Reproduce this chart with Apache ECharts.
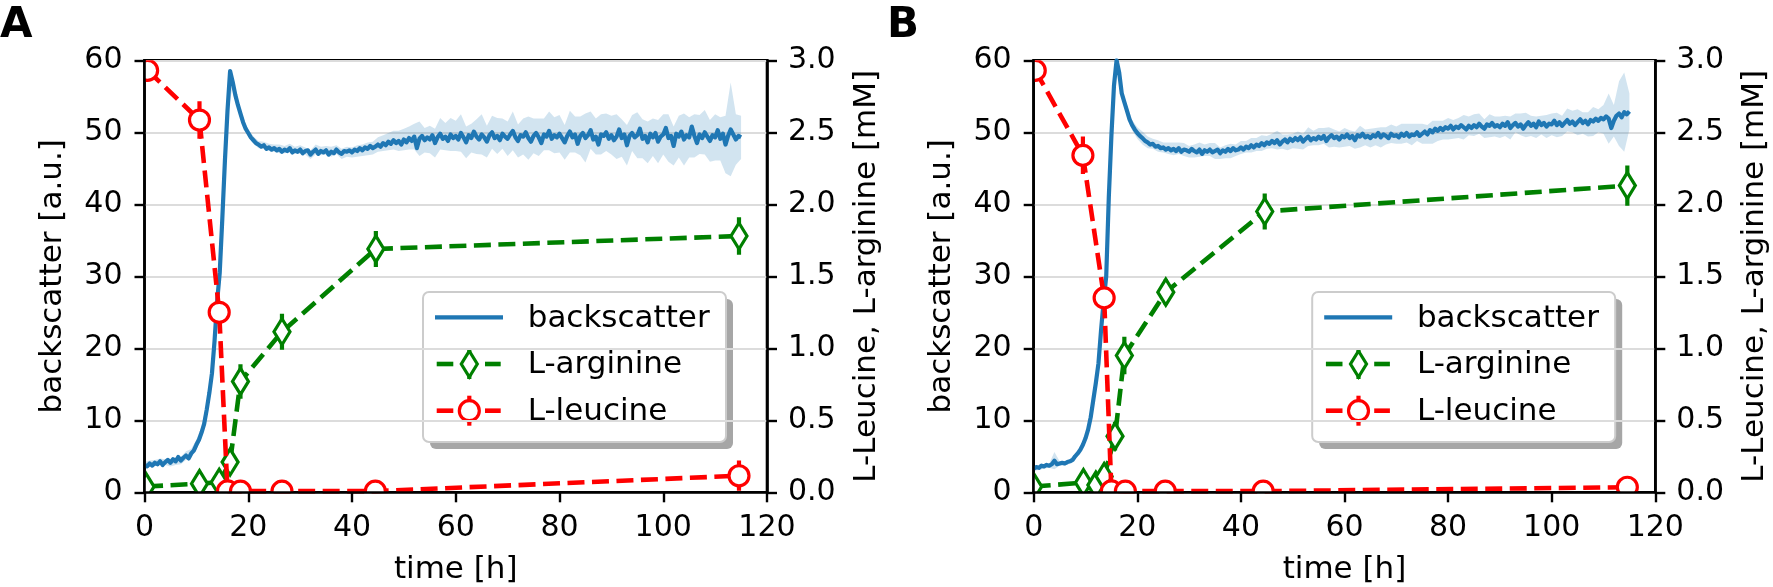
<!DOCTYPE html>
<html><head><meta charset="utf-8">
<script src="https://cdn.jsdelivr.net/npm/echarts@6/dist/echarts.min.js"></script>
<style>html,body{margin:0;padding:0;background:#fff}#c{width:1773px;height:587px}</style>
</head><body><div id="c"></div>
<script>
// ---------------- DATA ----------------
const bsStep = 0.5;   // hours between backscatter samples
const sdStep = 1.0;   // hours between spread samples
const xTicks = [0, 20, 40, 60, 80, 100, 120];
const yLeftTicks = [0, 10, 20, 30, 40, 50, 60];
const yRightTicks = [0.0, 0.5, 1.0, 1.5, 2.0, 2.5, 3.0];
const seriesNames = ['backscatter', 'L-arginine', 'L-leucine'];
const panelLabels = ['A', 'B'];

// Panel A backscatter mean (a.u.)
const bsA = [
 3.8,3.6,4.0,3.7,4.1,3.9,4.3,3.8,4.2,4.5,
 4.1,4.6,4.3,4.9,4.4,4.8,5.1,4.7,5.4,5.8,
 6.6,7.3,8.3,9.5,11.5,13.8,16.5,21.0,26.5,30.5,
 38.0,46.0,53.0,58.5,57.0,55.2,53.8,52.6,51.4,50.5,
 49.9,49.3,48.9,48.5,48.3,48.0,48.2,47.7,47.9,47.6,
 47.8,47.5,47.7,47.3,47.6,47.4,47.8,47.2,47.5,47.3,
 47.6,47.1,47.4,47.5,46.9,47.3,47.6,47.0,47.4,47.2,
 47.5,46.9,47.3,47.1,47.6,47.2,47.0,47.4,47.3,47.5,
 47.2,47.6,47.4,47.8,47.5,47.9,47.7,48.1,47.8,48.0,
 48.3,48.0,48.5,48.2,48.7,48.4,48.9,48.5,48.8,48.3,
 49.0,48.6,49.2,48.8,49.4,47.8,49.1,49.5,48.9,49.3,
 49.0,49.6,48.5,49.3,49.8,49.1,49.4,48.8,49.7,49.2,
 49.5,49.0,49.9,49.3,48.6,49.6,49.2,50.1,49.4,49.0,
 49.7,49.3,48.7,49.6,50.0,49.2,49.5,48.9,49.8,49.4,
 49.1,49.7,50.2,49.3,48.8,49.6,49.4,50.0,49.2,48.7,
 49.5,49.9,49.3,48.5,49.7,49.4,50.2,49.1,49.6,49.3,
 49.8,49.2,48.6,49.5,50.1,49.3,49.7,48.4,49.5,49.9,
 49.2,49.6,50.3,49.0,49.4,48.3,49.7,49.5,50.0,49.1,
 49.6,48.9,49.4,50.4,49.2,49.7,48.2,49.5,49.9,49.3,
 49.6,50.5,49.1,49.5,48.6,49.8,49.3,49.9,48.7,49.4,
 49.7,50.6,49.2,49.5,48.1,49.8,49.4,50.1,49.0,49.6,
 49.3,50.8,49.5,48.5,49.7,49.2,50.0,49.4,48.8,49.6,
 49.3,50.3,49.1,49.8,48.3,49.5,50.4,49.7,49.0,49.5,
 49.3
];
// Panel A backscatter spread (± a.u.)
const sdA = [
 0.4,0.4,0.4,0.4,0.4,0.5,0.5,0.5,0.6,0.6,
 0.7,0.8,1.0,1.2,1.0,0.8,0.6,0.6,0.7,0.6,
 0.5,0.5,0.5,0.5,0.5,0.5,0.6,0.5,0.6,0.5,
 0.6,0.5,0.6,0.7,0.6,0.6,0.7,0.6,0.7,0.7,
 0.7,0.8,0.8,0.9,0.9,1.0,1.1,1.2,1.3,1.4,
 1.5,1.6,1.8,2.4,1.7,1.9,2.0,2.2,1.9,2.3,
 2.1,2.6,2.2,2.0,2.4,2.8,2.2,2.3,2.5,2.1,
 2.4,2.7,2.3,2.5,3.0,2.4,2.6,2.2,2.7,2.5,
 2.6,2.4,2.9,2.5,2.7,3.4,2.6,2.5,2.8,2.6,
 2.7,3.1,2.6,2.8,2.5,3.2,2.7,2.9,2.6,3.0,
 2.8,3.3,2.7,2.9,3.6,2.8,3.0,2.7,3.1,2.9,
 3.2,3.0,4.0,6.5,3.5,3.0
];
// Panel B backscatter mean (a.u.)
const bsB = [
 3.3,3.5,3.4,3.7,3.6,3.8,3.7,3.9,4.4,3.9,
 4.0,4.1,4.0,4.2,4.3,4.5,5.0,5.4,5.9,6.6,
 7.5,8.7,10.4,12.8,15.2,17.9,22.5,26.5,30.0,41.0,
 49.5,56.5,60.0,58.3,55.4,54.2,53.0,51.8,51.0,50.4,
 49.9,49.5,49.2,48.8,48.6,48.3,48.4,48.0,48.1,47.8,
 47.9,47.6,47.8,47.5,47.7,47.4,47.8,47.3,47.6,47.5,
 47.3,47.7,47.4,47.2,47.6,47.0,47.5,47.3,47.6,47.2,
 47.4,47.6,47.1,47.5,47.3,47.7,47.4,47.8,47.5,47.6,
 47.9,47.6,48.0,47.8,48.2,47.9,48.3,48.1,48.5,48.2,
 48.6,48.4,48.8,48.5,48.9,48.3,48.7,49.0,48.6,49.1,
 48.8,49.2,48.9,49.3,48.7,49.1,49.4,48.9,49.2,49.0,
 49.4,49.1,49.5,48.8,49.3,49.6,49.2,49.4,49.0,49.5,
 49.3,49.7,49.2,49.5,48.9,49.6,49.4,49.8,49.3,49.5,
 49.2,49.6,49.4,49.9,49.3,49.7,49.5,49.2,49.8,49.5,
 49.6,49.3,49.8,49.5,49.9,49.4,49.7,49.6,50.0,49.5,
 49.8,50.1,49.7,50.3,50.0,50.5,50.2,50.6,50.3,50.7,
 50.5,50.9,50.4,50.8,50.6,51.0,50.7,50.4,50.9,50.6,
 51.0,50.7,51.2,50.8,50.5,51.1,50.9,51.3,50.8,51.0,
 50.7,51.2,50.9,51.4,50.6,51.0,51.3,50.8,51.1,50.5,
 51.0,51.4,50.9,51.2,50.7,51.5,51.0,51.3,50.8,51.2,
 51.1,51.6,51.0,51.4,50.9,51.3,51.7,51.2,51.5,51.0,
 51.4,51.8,51.3,51.6,51.1,51.7,51.5,51.9,51.6,52.0,
 51.8,52.2,51.9,50.6,51.6,52.3,52.6,52.1,52.8,52.5,
 52.9
];
// Panel B backscatter spread (± a.u.)
const sdB = [
 0.3,0.3,0.3,0.3,1.2,0.3,0.3,0.3,0.3,0.3,
 0.3,0.4,0.4,0.5,0.6,0.6,0.4,0.6,0.8,0.7,
 0.8,0.9,0.8,0.7,0.8,0.7,0.8,0.9,0.8,0.9,
 0.8,0.9,1.0,0.8,0.9,1.1,0.8,0.9,1.0,0.8,
 0.9,0.8,1.0,0.9,1.1,0.9,1.0,1.3,1.0,1.1,
 1.0,1.2,1.1,1.3,1.0,1.2,1.1,1.4,1.2,1.1,
 1.3,1.1,1.2,1.5,1.1,1.3,1.2,1.4,1.2,1.3,
 1.2,1.4,1.3,1.5,1.2,1.4,1.3,1.6,1.4,1.3,
 1.5,1.3,1.4,1.7,1.3,1.5,1.4,1.3,1.6,1.4,
 1.5,1.4,1.6,1.3,1.5,1.7,1.4,1.5,1.3,1.6,
 1.5,1.7,1.4,1.6,1.5,1.8,1.5,1.7,2.0,1.6,
 2.0,3.5,2.2,4.5,5.5,2.5
];

// Panel A amino acids (mM)
const argTimeA = [0.3, 10.6, 14.4, 16.5, 18.5, 26.5, 44.6, 114.6];
const argA     = [0.04, 0.06, 0.07, 0.21, 0.77, 1.115, 1.69, 1.78];
const argErrA  = [0.02, 0.03, 0.03, 0.06, 0.12, 0.125, 0.125, 0.13];
const leuTimeA = [0.6, 10.6, 14.4, 16.0, 18.5, 26.5, 44.5, 114.6];
const leuA     = [2.93, 2.585, 1.25, 0.01, 0.008, 0.008, 0.008, 0.115];
const leuErrA  = [0.03, 0.13, 0.04, 0.01, 0.01, 0.01, 0.01, 0.105];
// Panel B amino acids (mM)
const argTimeB = [0.0, 9.6, 12.0, 13.6, 15.7, 17.5, 25.5, 44.6, 114.6];
const argB     = [0.04, 0.067, 0.05, 0.11, 0.39, 0.95, 1.39, 1.95, 2.13];
const argErrB  = [0.02, 0.03, 0.03, 0.06, 0.1, 0.13, 0.09, 0.125, 0.14];
const leuTimeB = [0.3, 9.5, 13.6, 15.0, 17.7, 25.4, 44.3, 114.6];
const leuB     = [2.93, 2.34, 1.35, 0.01, 0.008, 0.008, 0.008, 0.035];
const leuErrB  = [0.03, 0.13, 0.04, 0.01, 0.01, 0.01, 0.01, 0.02];

// ---------------- STYLE ----------------
const FONT = '"DejaVu Sans", "Liberation Sans", sans-serif';
const BLUE = '#1f77b4', GREEN = '#008000', RED = '#ff0000';
const DASH = [17, 7.5];
const grids = [
  {left: 144.5, top: 60.3, width: 622.5, height: 432},
  {left: 1033.7, top: 60.3, width: 621.6, height: 432}
];

function band(gi, means, sds) {
  const data = sds.map((sd, i) => {
    const t = i * sdStep;
    const m = means[Math.round(t / bsStep)];
    return [t, m - sd, m + sd];
  });
  return {
    type: 'custom', xAxisIndex: gi, yAxisIndex: gi * 2, z: 1, clip: true, silent: true,
    data, encode: {x: 0, y: [1, 2]},
    renderItem(params, api) {
      if (params.dataIndex !== 0) return null;
      const up = data.map(d => api.coord([d[0], d[2]]));
      const lo = data.map(d => api.coord([d[0], d[1]])).reverse();
      return {type: 'polygon', shape: {points: up.concat(lo)},
        style: {fill: 'rgba(31,119,180,0.2)'}};
    }
  };
}
function bsLine(gi, means) {
  return {
    type: 'line', name: seriesNames[0], xAxisIndex: gi, yAxisIndex: gi * 2, z: 2,
    data: means.map((v, i) => [i * bsStep, v]),
    symbol: 'none', showSymbol: false, clip: true, silent: true,
    lineStyle: {color: BLUE, width: 4.2, join: 'round'}
  };
}
function dashLine(gi, name, times, vals, color, z) {
  return {
    type: 'line', name, xAxisIndex: gi, yAxisIndex: gi * 2 + 1, z,
    data: times.map((t, i) => [t, vals[i]]),
    symbol: 'none', showSymbol: false, clip: true, silent: true,
    lineStyle: {color, width: 4.6, type: DASH}
  };
}
function markers(gi, times, vals, errs, color, shape, z) {
  return {
    type: 'custom', xAxisIndex: gi, yAxisIndex: gi * 2 + 1, z, clip: true, silent: true,
    data: times.map((t, i) => [t, vals[i], errs[i]]),
    encode: {x: 0, y: 1},
    renderItem(params, api) {
      const t = api.value(0), v = api.value(1), e = api.value(2);
      const c = api.coord([t, v]);
      const top = api.coord([t, v + e]), bot = api.coord([t, v - e]);
      const ch = [{type: 'line', shape: {x1: c[0], y1: top[1], x2: c[0], y2: bot[1]},
        style: {stroke: color, lineWidth: 4.2}}];
      if (shape === 'circle') {
        ch.push({type: 'circle', shape: {cx: c[0], cy: c[1], r: 10},
          style: {fill: '#fff', stroke: color, lineWidth: 3.2}});
      } else {
        ch.push({type: 'polygon', shape: {points: [[c[0], c[1] - 13], [c[0] + 8, c[1]], [c[0], c[1] + 13], [c[0] - 8, c[1]]]},
          style: {fill: '#fff', stroke: color, lineWidth: 3.2}});
      }
      return {type: 'group', children: ch};
    }
  };
}

function xAxis(gi) {
  return {
    type: 'value', gridIndex: gi, min: xTicks[0], max: xTicks[xTicks.length - 1],
    interval: xTicks[1] - xTicks[0], z: 10,
    name: 'time [h]', nameLocation: 'middle', nameGap: 62,
    nameTextStyle: {fontFamily: FONT, fontSize: 31, color: '#000'},
    axisLine: {show: true, onZero: false, lineStyle: {color: '#000', width: 2.6}},
    axisTick: {show: true, inside: false, length: 10, lineStyle: {color: '#000', width: 2.4}},
    axisLabel: {show: true, margin: 21, fontFamily: FONT, fontSize: 30, color: '#000',
      showMinLabel: true, showMaxLabel: true, hideOverlap: false},
    splitLine: {show: false}
  };
}
function yLeft(gi) {
  return {
    type: 'value', gridIndex: gi, position: 'left', min: yLeftTicks[0], max: yLeftTicks[yLeftTicks.length - 1],
    interval: yLeftTicks[1] - yLeftTicks[0], z: 10,
    name: 'backscatter [a.u.]', nameLocation: 'middle', nameGap: 76, nameRotate: 90,
    nameTextStyle: {fontFamily: FONT, fontSize: 31, color: '#000'},
    axisLine: {show: true, onZero: false, lineStyle: {color: '#000', width: 2.6}},
    axisTick: {show: true, inside: false, length: 10, lineStyle: {color: '#000', width: 2.4}},
    axisLabel: {show: true, margin: 22, fontFamily: FONT, fontSize: 30, color: '#000',
      showMinLabel: true, showMaxLabel: true, hideOverlap: false},
    splitLine: {show: false}
  };
}
function yRight(gi) {
  return {
    type: 'value', gridIndex: gi, position: 'right', min: yRightTicks[0], max: yRightTicks[yRightTicks.length - 1],
    interval: yRightTicks[1] - yRightTicks[0], z: 0,
    name: 'L-Leucine, L-arginine [mM]', nameLocation: 'middle', nameGap: 84, nameRotate: 90,
    nameTextStyle: {fontFamily: FONT, fontSize: 31, color: '#000'},
    axisLine: {show: true, onZero: false, lineStyle: {color: '#000', width: 2.6}},
    axisTick: {show: true, inside: false, length: 10, lineStyle: {color: '#000', width: 2.4}},
    axisLabel: {show: true, margin: 21, fontFamily: FONT, fontSize: 30, color: '#000',
      formatter: v => v.toFixed(1), showMinLabel: true, showMaxLabel: true, hideOverlap: false},
    splitLine: {show: true, lineStyle: {color: '#dcdcdc', width: 2}}
  };
}

function legendGraphic(gi) {
  const g = grids[gi];
  const x0 = g.left + 278.5, y0 = 292;
  const rows = [25.3, 72, 118.7];
  const cx = 46.3;
  const ch = [
    {type: 'rect', shape: {x: 7, y: 7, width: 303, height: 150, r: 6}, style: {fill: '#a6a6a6'}},
    {type: 'rect', shape: {x: 0, y: 0, width: 303, height: 150, r: 6}, style: {fill: '#fff', stroke: '#cccccc', lineWidth: 2}},
    // backscatter
    {type: 'line', shape: {x1: 12, y1: rows[0], x2: 80, y2: rows[0]}, style: {stroke: BLUE, lineWidth: 4.2}},
    // L-arginine
    {type: 'line', shape: {x1: 13.7, y1: rows[1], x2: 30.3, y2: rows[1]}, style: {stroke: GREEN, lineWidth: 4.6}},
    {type: 'line', shape: {x1: 62, y1: rows[1], x2: 77.7, y2: rows[1]}, style: {stroke: GREEN, lineWidth: 4.6}},
    {type: 'line', shape: {x1: cx, y1: rows[1] - 15, x2: cx, y2: rows[1] + 15}, style: {stroke: GREEN, lineWidth: 4.2}},
    {type: 'polygon', shape: {points: [[cx, rows[1] - 13], [cx + 8, rows[1]], [cx, rows[1] + 13], [cx - 8, rows[1]]]},
      style: {fill: '#fff', stroke: GREEN, lineWidth: 3.2}},
    // L-leucine
    {type: 'line', shape: {x1: 13.7, y1: rows[2], x2: 30.3, y2: rows[2]}, style: {stroke: RED, lineWidth: 4.6}},
    {type: 'line', shape: {x1: 62, y1: rows[2], x2: 77.7, y2: rows[2]}, style: {stroke: RED, lineWidth: 4.6}},
    {type: 'line', shape: {x1: cx, y1: rows[2] - 15, x2: cx, y2: rows[2] + 15}, style: {stroke: RED, lineWidth: 4.2}},
    {type: 'circle', shape: {cx: cx, cy: rows[2], r: 10}, style: {fill: '#fff', stroke: RED, lineWidth: 3.2}}
  ];
  seriesNames.forEach((n, i) => {
    ch.push({type: 'text', x: 104.7, y: rows[i] + 1.3,
      style: {text: n, font: '31px ' + FONT, fill: '#000', align: 'left', verticalAlign: 'middle'}});
  });
  return {type: 'group', x: x0, y: y0, z: 100, children: ch};
}

const chart = echarts.init(document.getElementById('c'), null, {renderer: 'canvas'});
chart.setOption({
  animation: false,
  backgroundColor: '#fff',
  grid: grids.map(g => Object.assign({show: true, borderColor: '#000', borderWidth: 2.6,
    backgroundColor: 'transparent', containLabel: false, outerBoundsMode: 'none'}, g)),
  xAxis: [xAxis(0), xAxis(1)],
  yAxis: [yLeft(0), yRight(0), yLeft(1), yRight(1)],
  series: [
    band(0, bsA, sdA), bsLine(0, bsA),
    dashLine(0, seriesNames[1], argTimeA, argA, GREEN, 3), markers(0, argTimeA, argA, argErrA, GREEN, 'diamond', 4),
    dashLine(0, seriesNames[2], leuTimeA, leuA, RED, 5), markers(0, leuTimeA, leuA, leuErrA, RED, 'circle', 6),
    band(1, bsB, sdB), bsLine(1, bsB),
    dashLine(1, seriesNames[1], argTimeB, argB, GREEN, 3), markers(1, argTimeB, argB, argErrB, GREEN, 'diamond', 4),
    dashLine(1, seriesNames[2], leuTimeB, leuB, RED, 5), markers(1, leuTimeB, leuB, leuErrB, RED, 'circle', 6)
  ],
  graphic: [
    legendGraphic(0), legendGraphic(1),
    {type: 'text', x: 0, y: 26, z: 100, style: {text: panelLabels[0], font: 'bold 42px ' + FONT, fill: '#000', verticalAlign: 'middle'}},
    {type: 'text', x: 887, y: 26, z: 100, style: {text: panelLabels[1], font: 'bold 42px ' + FONT, fill: '#000', verticalAlign: 'middle'}}
  ]
});
</script></body></html>
